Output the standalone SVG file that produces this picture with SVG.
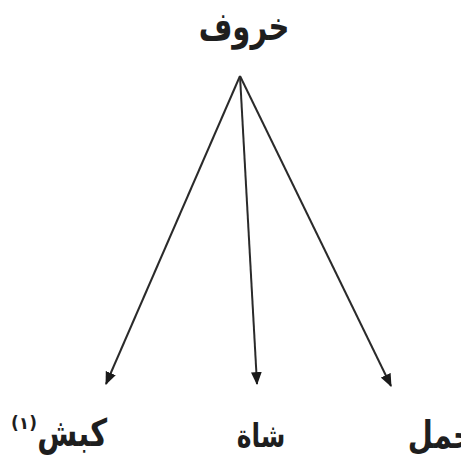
<svg xmlns="http://www.w3.org/2000/svg" width="461" height="462" viewBox="0 0 461 462">
<style>
.t{font-family:"DejaVu Sans",sans-serif;fill:#1e1e1e;font-weight:bold}
.c{stroke:#2a2a2a;stroke-width:2;fill:none}
</style>
<defs>
<marker id="ah" viewBox="0 0 12 10" refX="11" refY="5" markerWidth="13" markerHeight="11" markerUnits="userSpaceOnUse" orient="auto">
<path d="M0,0 L12,5 L0,10 z" fill="#1a1a1a"/>
</marker>
</defs>
<rect width="461" height="462" fill="#ffffff"/>
<g id="connectors">
<line class="c" x1="240" y1="76" x2="106" y2="384" marker-end="url(#ah)"/>
<line class="c" x1="240" y1="76" x2="257" y2="384" marker-end="url(#ah)"/>
<line class="c" x1="240" y1="76" x2="391" y2="386" marker-end="url(#ah)"/>
</g>
<g id="n-kharuf"><text class="t" transform="translate(244,40) scale(1,1.35)" font-size="29" text-anchor="middle">خروف</text></g>
<g id="n-kabsh"><text class="t" transform="translate(107,446) scale(1,1.3)" font-size="29" text-anchor="end">كبش</text><text class="t" x="24" y="429" font-size="17" font-weight="normal" text-anchor="middle">(١)</text></g>
<g id="n-shah"><text class="t" transform="translate(261,447) scale(1,1.3)" font-size="25" text-anchor="middle">شاة</text></g>
<g id="n-hamal"><text class="t" transform="translate(474,448) scale(1,1.3)" font-size="29" text-anchor="end">حمل</text></g>
</svg>
